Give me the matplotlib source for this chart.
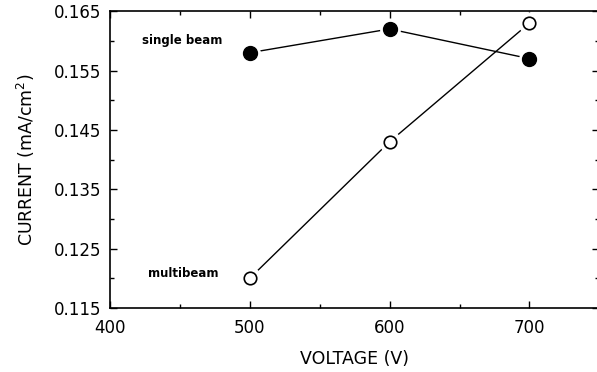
import matplotlib
matplotlib.use("Agg")
import matplotlib.pyplot as plt
from matplotlib.ticker import MultipleLocator

# données
voltage = [500, 600, 700]
single_beam = [0.158, 0.162, 0.157]
multibeam = [0.120, 0.143, 0.163]

xticks = [400, 500, 600, 700]
yticks = [0.115, 0.125, 0.135, 0.145, 0.155, 0.165]

plt.rcParams['font.family'] = ['DejaVu Sans']

fig = plt.figure(figsize=(5.97, 3.72), dpi=100)
ax = fig.add_axes([0.184, 0.172, 0.82, 0.798])

# lignes avec un petit espace blanc autour des marqueurs
ax.plot(voltage, single_beam, color='black', lw=1.0, zorder=1)
ax.plot(voltage, multibeam, color='black', lw=1.0, zorder=1)
ax.plot(voltage, single_beam, 'o', ms=14, color='white', mec='white', zorder=2)
ax.plot(voltage, multibeam, 'o', ms=15, color='white', mec='white', zorder=2)
ax.plot(voltage, single_beam, 'o', ms=10, color='black', mec='black', zorder=3)
ax.plot(voltage, multibeam, 'o', ms=9, mfc='white', mec='black', mew=1.2, zorder=3)

ax.text(423, 0.1601, 'single beam', fontsize=8.5, fontweight='semibold', va='center', ha='left')
ax.text(427, 0.1208, 'multibeam', fontsize=8.5, fontweight='semibold', va='center', ha='left')

ax.set_xlim(400, 750)
ax.set_ylim(0.115, 0.165)
ax.set_xticks(xticks)
ax.set_yticks(yticks)
ax.set_yticklabels([f'{t:.3f}' for t in yticks])
ax.xaxis.set_minor_locator(MultipleLocator(50))
ax.yaxis.set_minor_locator(MultipleLocator(0.005))
ax.tick_params(which='both', direction='in', top=True, right=True, labelsize=12, width=1)
ax.tick_params(which='major', length=5)
ax.tick_params(which='minor', length=3)
ax.tick_params(axis='x', pad=8)
ax.tick_params(axis='y', pad=6)
ax.spines['right'].set_visible(False)
for s in ['left', 'bottom', 'top']:
    ax.spines[s].set_linewidth(1.2)

ax.set_xlabel('VOLTAGE (V)', fontsize=12.5, labelpad=9)
ax.set_ylabel('CURRENT (mA/cm$^2$)', fontsize=12.5, labelpad=12)

fig.savefig('out.png', dpi=100)
